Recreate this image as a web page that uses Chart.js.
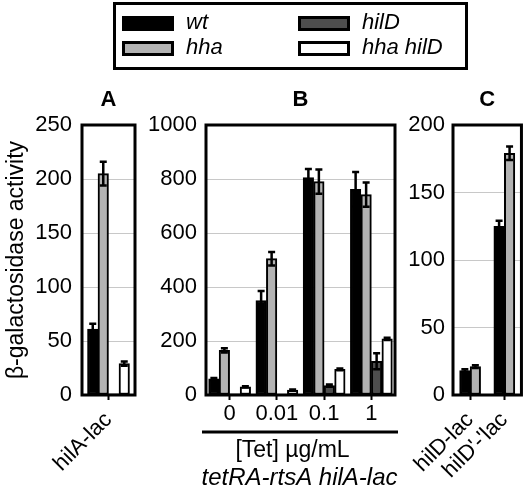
<!DOCTYPE html>
<html lang="en">
<head>
<meta charset="UTF-8">
<title>beta-galactosidase activity</title>
<script src="https://cdn.jsdelivr.net/npm/chart.js"></script>
<style>
  body { margin: 0; background: #fff; }
  #wrap { position: relative; width: 531px; height: 497px; overflow: hidden; font-family: 'Liberation Sans', Arial, sans-serif; }
  canvas { position: absolute; left: 0; top: 0; }
  #legend { position: absolute; left: 113px; top: 2px; width: 355px; height: 68px; border: 3px solid #000; box-sizing: border-box; }
  .sw { position: absolute; width: 52px; height: 15px; border: 3px solid #000; box-sizing: border-box; }
  .lt { position: absolute; font-style: italic; font-size: 22px; line-height: 26px; height: 26px; white-space: nowrap; color: #000; }
</style>
</head>
<body>
<div id="wrap">
  <canvas id="chartA" width="531" height="497"></canvas>
  <canvas id="chartB" width="531" height="497"></canvas>
  <canvas id="chartC" width="531" height="497"></canvas>
  <div id="legend"></div>
</div>
<script>
// strains
const seriesNames = ['wt', 'hha', 'hilD', 'hha hilD'];
const seriesFill = ['#000000', '#b3b3b3', '#4d4d4d', '#ffffff'];

// panel A - hilA-lac
const catsA = ['hilA-lac'];
const wtA = [61];
const hhaA = [205];
const hilDA = [1];
const hhaHilDA = [29];
const errWtA = [5];
const errHhaA = [11];
const errHilDA = [0];
const errHhaHilDA = [2];
const ticksA = [0, 50, 100, 150, 200, 250];

// panel B - tetRA-rtsA hilA-lac, [Tet] ug/mL
const catsB = ['0', '0.01', '0.1', '1'];
const wtB = [60, 350, 805, 762];
const hhaB = [165, 505, 790, 742];
const hilDB = [4, 3, 35, 125];
const hhaHilDB = [30, 18, 95, 208];
const errWtB = [3, 35, 32, 64];
const errHhaB = [8, 25, 45, 45];
const errHilDB = [0, 0, 4, 30];
const errHhaHilDB = [2, 2, 3, 4];
const ticksB = [0, 200, 400, 600, 800, 1000];

// panel C - hilD fusions
const catsC = ['hilD-lac', "hilD'-'lac"];
const wtC = [18, 125];
const hhaC = [21, 179];
const hilDC = [null, null];
const hhaHilDC = [null, null];
const errWtC = [1, 4];
const errHhaC = [1, 5];
const ticksC = [0, 50, 100, 150, 200];

Chart.defaults.font.family = "'Liberation Sans', Arial, sans-serif";
Chart.defaults.color = '#000';

// legend (html)
const legend = document.getElementById('legend');
seriesNames.forEach((name, i) => {
  const x = 122 + Math.floor(i / 2) * 176 - 113 - 3;
  const y = 16 + (i % 2) * 25 - 2 - 3;
  const sw = document.createElement('div');
  sw.className = 'sw';
  sw.style.left = x + 'px';
  sw.style.top = y + 'px';
  sw.style.background = seriesFill[i];
  legend.appendChild(sw);
  const t = document.createElement('div');
  t.className = 'lt';
  t.style.left = (x + 64) + 'px';
  t.style.top = (y - 7) + 'px';
  t.textContent = name;
  legend.appendChild(t);
});

const errorBars = {
  id: 'errorBars',
  afterDatasetsDraw(chart) {
    const ctx = chart.ctx;
    const y = chart.scales.y;
    ctx.save();
    ctx.strokeStyle = '#000';
    ctx.lineWidth = 2.5;
    chart.data.datasets.forEach((ds, di) => {
      const meta = chart.getDatasetMeta(di);
      meta.data.forEach((bar, i) => {
        const v = ds.data[i], e = ds.errors ? ds.errors[i] : 0;
        if (v == null || !e) return;
        const top = y.getPixelForValue(v + e);
        const bot = y.getPixelForValue(v - e);
        ctx.beginPath();
        ctx.moveTo(bar.x, bot); ctx.lineTo(bar.x, top);
        ctx.moveTo(bar.x - 3.5, top); ctx.lineTo(bar.x + 3.5, top);
        ctx.moveTo(bar.x - 3.5, bot); ctx.lineTo(bar.x + 3.5, bot);
        ctx.stroke();
      });
    });
    ctx.restore();
  }
};

const frame = {
  id: 'frame',
  afterDatasetsDraw(chart, args, opts) {
    const {ctx, chartArea: a} = chart;
    ctx.save();
    ctx.lineWidth = 3;
    ctx.strokeStyle = '#000';
    ctx.strokeRect(a.left, a.top, a.right - a.left, a.bottom - a.top);
    const cx = (a.left + a.right) / 2;
    ctx.fillStyle = '#000';
    ctx.textAlign = 'center';
    ctx.textBaseline = 'alphabetic';
    ctx.font = "bold 22px 'Liberation Sans', Arial, sans-serif";
    ctx.fillText(opts.letter, cx, a.top - 19);
    if (opts.under) {
      ctx.beginPath();
      ctx.moveTo(a.left - 4, a.bottom + 37);
      ctx.lineTo(a.right + 3, a.bottom + 37);
      ctx.stroke();
      ctx.font = "23px 'Liberation Sans', Arial, sans-serif";
      ctx.fillText(opts.under[0], cx - 8, a.bottom + 62);
      ctx.font = "italic 24px 'Liberation Sans', Arial, sans-serif";
      ctx.fillText(opts.under[1], cx - 1, a.bottom + 90);
    }
    ctx.restore();
  }
};

function makeDatasets(vals, errs) {
  return seriesNames.map((name, i) => ({
    label: name,
    data: vals[i],
    errors: errs[i],
    backgroundColor: seriesFill[i],
    borderColor: '#000',
    borderWidth: 2,
    borderSkipped: false,
    barThickness: 10.5,
    skipNull: true
  }));
}

function panel(id, cats, vals, errs, ticks, box, extra) {
  const yMax = ticks[ticks.length - 1];
  new Chart(document.getElementById(id), {
    type: 'bar',
    data: { labels: cats, datasets: makeDatasets(vals, errs) },
    plugins: [errorBars, frame],
    options: {
      responsive: false,
      animation: false,
      layout: { padding: { left: 0, right: 531 - box.right, top: box.top, bottom: 497 - box.bottom - 100 } },
      plugins: {
        legend: { display: false },
        tooltip: { enabled: false },
        frame: extra
      },
      scales: {
        x: {
          offset: true,
          border: { display: false },
          grid: { drawOnChartArea: false, drawTicks: true, offset: false, tickLength: 5, tickWidth: 2, tickColor: '#000' },
          ticks: { font: { size: 22 }, padding: extra.rot ? 7 : 1, autoSkip: false,
                   maxRotation: extra.rot, minRotation: extra.rot },
          afterFit(s) { s.height = 100; }
        },
        y: {
          min: 0, max: yMax,
          border: { display: false },
          grid: { color: '#c8c8c8', lineWidth: 1, drawTicks: false },
          ticks: { stepSize: ticks[1] - ticks[0], font: { size: 22 }, padding: extra.pad,
                   callback: v => String(v) },
          title: { display: !!extra.ytitle, text: extra.ytitle || '', font: { size: 23 }, padding: { top: 3, bottom: 0 } },
          afterFit(s) { s.width = box.left; }
        }
      }
    }
  });
}

panel('chartA', catsA, [wtA, hhaA, hilDA, hhaHilDA], [errWtA, errHhaA, errHilDA, errHhaHilDA], ticksA,
  { left: 82, right: 135, top: 125, bottom: 395 },
  { letter: 'A', rot: 45, pad: 10, ytitle: 'β-galactosidase activity' });

panel('chartB', catsB, [wtB, hhaB, hilDB, hhaHilDB], [errWtB, errHhaB, errHilDB, errHhaHilDB], ticksB,
  { left: 206, right: 395, top: 125, bottom: 395 },
  { letter: 'B', rot: 0, pad: 9, under: ['[Tet] µg/mL', 'tetRA-rtsA hilA-lac'] });

panel('chartC', catsC, [wtC, hhaC, hilDC, hhaHilDC], [errWtC, errHhaC, [0, 0], [0, 0]], ticksC,
  { left: 453, right: 527, top: 125, bottom: 395 },
  { letter: 'C', rot: 45, pad: 8 });
</script>
</body>
</html>
